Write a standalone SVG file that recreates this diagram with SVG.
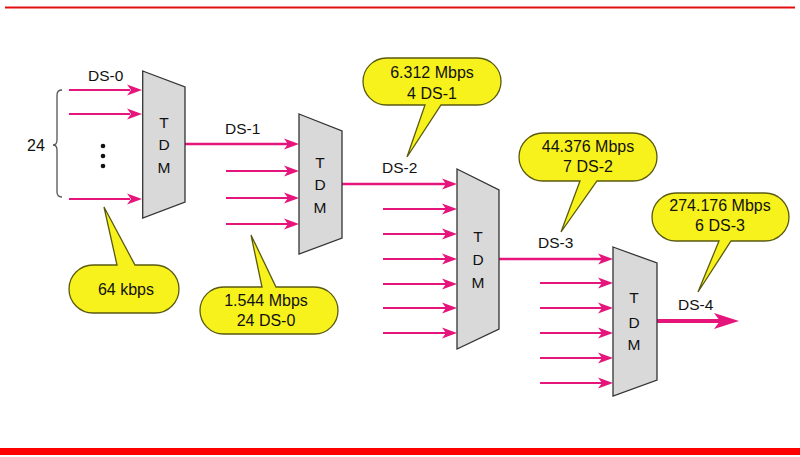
<svg xmlns="http://www.w3.org/2000/svg" width="800" height="457" viewBox="0 0 800 457">
<style>
text{font-family:"Liberation Sans",Arial,sans-serif;fill:#111;}
.lbl{font-size:15.5px;}
.tdm{font-size:15.5px;text-anchor:middle;}
.co{font-size:16px;text-anchor:middle;}
.box{fill:#d9d9d9;stroke:#333;stroke-width:1.3;}
.call{fill:#f8f21c;stroke:#5a5a10;stroke-width:1.3;}
.w{stroke:#e5157c;fill:none;stroke-width:2;}
.w2{stroke:#e5157c;fill:none;stroke-width:2.6;}
.w4{stroke:#e5157c;fill:none;stroke-width:4;}
.hd{fill:#e5157c;}
</style>
<defs>
<path id="h" d="M0,0 L-15,-5.5 L-11,0 L-15,5.5 Z"/>
<path id="hb" d="M0,0 L-25,-8 L-19,0 L-25,8 Z"/>
</defs>
<rect width="800" height="457" fill="#fff"/>
<line x1="5" y1="7.5" x2="795" y2="7.5" stroke="#e31010" stroke-width="2"/>
<line x1="0" y1="451.5" x2="800" y2="451.5" stroke="#f00" stroke-width="7"/>

<g id="connectors">
<path class="w" d="M69,90 H130 M69,114 H130 M69,199 H130"/>
<path class="w2" d="M185,144 H288"/>
<path class="w" d="M226,171 H288 M226,198 H288 M226,224 H288"/>
<path class="w2" d="M342,184 H446"/>
<path class="w" d="M383,209 H446 M383,234 H446 M383,259 H446 M383,284 H446 M383,308 H446 M383,333 H446"/>
<path class="w2" d="M499,259 H603"/>
<path class="w" d="M540,283 H603 M540,308 H603 M540,333 H603 M540,358 H603 M540,383 H603"/>
<path class="w4" d="M657,321 H722"/>
<g class="hd">
<use href="#h" x="142" y="90"/><use href="#h" x="142" y="114"/><use href="#h" x="142" y="199"/>
<use href="#h" x="299" y="144"/><use href="#h" x="299" y="171"/><use href="#h" x="299" y="198"/><use href="#h" x="299" y="224"/>
<use href="#h" x="457" y="184"/><use href="#h" x="457" y="209"/><use href="#h" x="457" y="234"/><use href="#h" x="457" y="259"/><use href="#h" x="457" y="284"/><use href="#h" x="457" y="308"/><use href="#h" x="457" y="333"/>
<use href="#h" x="613" y="259"/><use href="#h" x="613" y="283"/><use href="#h" x="613" y="308"/><use href="#h" x="613" y="333"/><use href="#h" x="613" y="358"/><use href="#h" x="613" y="383"/>
<use href="#hb" x="739" y="321"/>
</g>
</g>

<g id="inputs-ds0">
<text class="lbl" x="88" y="81">DS-0</text>
<path d="M62,90 Q57,90 57,95 V140 Q57,145 53,145 Q57,145 57,150 V192 Q57,197 62,197" fill="none" stroke="#555" stroke-width="1.3"/>
<text x="27" y="151" style="font-size:16px">24</text>
<circle cx="103" cy="146" r="2.3" fill="#111"/>
<circle cx="103" cy="156" r="2.3" fill="#111"/>
<circle cx="103" cy="166" r="2.3" fill="#111"/>
</g>

<g id="tdm1">
<polygon class="box" points="142.7,71 185,87 185,202 142.7,218"/>
<text class="tdm" x="164" y="128">T</text>
<text class="tdm" x="164" y="150">D</text>
<text class="tdm" x="164" y="173">M</text>
</g>
<text class="lbl" x="225" y="134">DS-1</text>

<g id="tdm2">
<polygon class="box" points="299,114 342,131 342,238 299,254"/>
<text class="tdm" x="320" y="168">T</text>
<text class="tdm" x="320" y="190">D</text>
<text class="tdm" x="320" y="213">M</text>
</g>
<text class="lbl" x="382" y="173">DS-2</text>

<g id="tdm3">
<polygon class="box" points="457,169 499,190 499,329 457,349"/>
<text class="tdm" x="478" y="242">T</text>
<text class="tdm" x="478" y="265">D</text>
<text class="tdm" x="478" y="288">M</text>
</g>
<text class="lbl" x="538" y="248">DS-3</text>

<g id="tdm4">
<polygon class="box" points="613,247 657,263 657,380 613,396"/>
<text class="tdm" x="634" y="303">T</text>
<text class="tdm" x="634" y="328">D</text>
<text class="tdm" x="634" y="350">M</text>
</g>
<text class="lbl" x="678" y="310">DS-4</text>

<g id="callout-64kbps">
<path class="call" d="M93,265 L117,265 L104,207 L135,265 L155,265 A24,24 0 0 1 155,313 L93,313 A24,24 0 0 1 93,265 Z"/>
<text class="co" x="126" y="295">64 kbps</text>
</g>
<g id="callout-ds1">
<path class="call" d="M223.5,287 L262,287 L251,235 L276,287 L314.5,287 A23.5,23.5 0 0 1 314.5,334 L223.5,334 A23.5,23.5 0 0 1 223.5,287 Z"/>
<text class="co" x="266" y="306">1.544 Mbps</text>
<text class="co" x="266" y="326">24 DS-0</text>
</g>
<g id="callout-ds2">
<path class="call" d="M386.5,58 L477.5,58 A23.5,23.5 0 0 1 477.5,105 L441,105 L407,157 L425,105 L386.5,105 A23.5,23.5 0 0 1 386.5,58 Z"/>
<text class="co" x="432" y="78">6.312 Mbps</text>
<text class="co" x="432" y="99">4 DS-1</text>
</g>
<g id="callout-ds3">
<path class="call" d="M543,133 L633,133 A24,24 0 0 1 633,181 L597,181 L561,232 L580,181 L543,181 A24,24 0 0 1 543,133 Z"/>
<text class="co" x="588" y="152">44.376 Mbps</text>
<text class="co" x="588" y="172">7 DS-2</text>
</g>
<g id="callout-ds4">
<path class="call" d="M676,193 L765,193 A24,24 0 0 1 765,241 L731,241 L698,292 L719,241 L676,241 A24,24 0 0 1 676,193 Z"/>
<text class="co" x="720" y="211">274.176 Mbps</text>
<text class="co" x="720" y="231">6 DS-3</text>
</g>
</svg>
